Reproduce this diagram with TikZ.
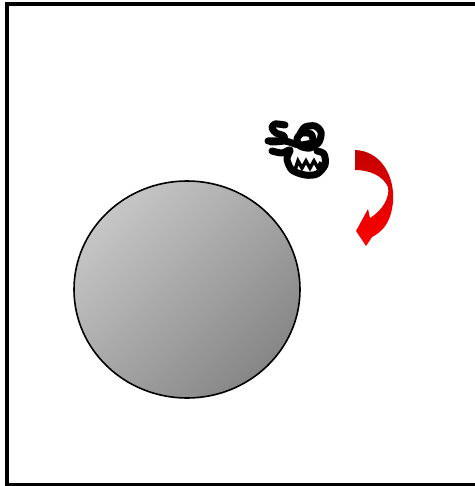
\documentclass[tikz,border=0pt]{standalone}
\definecolor{darkred}{RGB}{196,0,0}
\definecolor{brightred}{RGB}{255,0,0}
\begin{document}
\begin{tikzpicture}[x=1pt,y=-1pt]
            \useasboundingbox (0,0) rectangle (474,486);
            % frame
            \draw[line width=4pt] (6.5,4.5) rectangle (478,485);
            % ball
            \draw[line width=1.6pt,shading=axis,top color=gray!45,bottom color=gray!95,shading angle=45]
                (187,289.5) ellipse (113 and 108.5);
            % scribble
            \begin{scope}[line width=7pt,line cap=round,line join=round]
                \draw plot[smooth] coordinates {(285,125) (275,124) (272,128) (276,133) (284,136) (283,141) (271,142)};
                \draw plot[smooth] coordinates {(268,141) (285,141) (300,145) (316,142)};
                \draw plot[smooth] coordinates {(300,134) (305,127) (315,126) (321,132) (319,142) (310,148) (300,146) (297,139) (302,133) (311,134) (313,140)};
                \draw plot[smooth] coordinates {(272,151) (282,153) (290,150) (287,159) (292,170) (305,175) (317,174) (325,165) (324,154) (317,151)};
            \end{scope}
            \draw[line width=3.5pt,line join=miter] (295,170) -- (298,161) -- (302,168) -- (306,161) -- (310,168) -- (314,161) -- (318,168) -- (321,162);
            % turning arrow
            \shade[top color=darkred,bottom color=brightred]
                (355,150) .. controls (381,151) and (395,176) .. (393,202)
                .. controls (391,221) and (384,231) .. (372,237)
                -- (366,246) -- (356,231) -- (368,209) -- (370,218)
                .. controls (383,210) and (390,197) .. (388,187)
                .. controls (383,176) and (370,170) .. (355,170) -- cycle;
        \end{tikzpicture}
\end{document}
